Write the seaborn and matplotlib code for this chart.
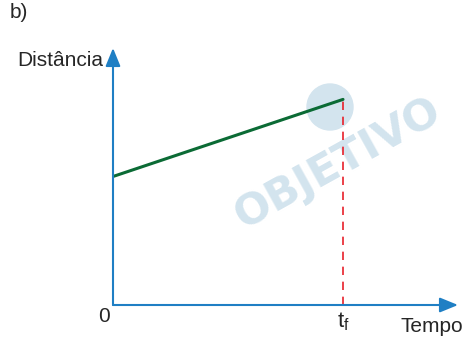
import matplotlib
matplotlib.use("Agg")
import matplotlib.pyplot as plt
import seaborn as sns
import pandas as pd
from matplotlib.patches import Ellipse

# data
tempo = [0.0, 1.0]          # 0 .. t_f
distancia = [1.0, 1.6]      # start and end distance
t_labels = ["0", "$\\mathregular{t_f}$"]

sns.set_style("white")
plt.rcParams['font.family'] = ['Liberation Sans', 'DejaVu Sans']

BLUE = "#1f7fc4"
GREEN = "#0b6b35"
RED = "#e8202a"
WM = "#d3e4ee"

fig = plt.figure(figsize=(4.66, 3.40), dpi=100)
W, H = 466, 340
ax = fig.add_axes([113 / W, 35 / H, 345 / W, 257 / H])
ax.set_xlim(0, 1.5)
ax.set_ylim(0, 2.0)
ax.axis("off")
ax.set_zorder(2)

# watermark
fig.text(338 / W, 1 - 163 / H, "OBJETIVO", rotation=29, fontsize=31, fontweight="heavy",
         family="DejaVu Sans", color=WM, ha="center", va="center", zorder=0)
fig.patches.append(Ellipse((330 / W, 1 - 107 / H), 46 / W, 46 / H, transform=fig.transFigure,
                           color=WM, zorder=0))

df = pd.DataFrame({"tempo": tempo, "distancia": distancia})
sns.lineplot(data=df, x="tempo", y="distancia", color=GREEN, lw=2.2, ax=ax, zorder=3)
ax.plot([tempo[-1], tempo[-1]], [0, distancia[-1]], color=RED, lw=1.2,
        dashes=(5, 4), zorder=2)

# axes with arrows
ax.annotate("", xy=(1.0, 0), xytext=(0, 0), xycoords="axes fraction",
            arrowprops=dict(arrowstyle="-|>,head_length=1.1,head_width=0.45", color=BLUE, lw=1.5,
                            shrinkA=0, shrinkB=0), clip_on=False)
ax.annotate("", xy=(0, 1.0), xytext=(0, 0), xycoords="axes fraction",
            arrowprops=dict(arrowstyle="-|>,head_length=1.1,head_width=0.45", color=BLUE, lw=1.5,
                            shrinkA=0, shrinkB=0), clip_on=False)

# labels
fig.text(10 / W, 1 - 13 / H, "b)", fontsize=15, ha="left", va="center")
fig.text(103 / W, 1 - 60 / H, "Distância", fontsize=15, ha="right", va="center")
fig.text(463 / W, 1 - 326 / H, "Tempo", fontsize=15, ha="right", va="center")
ax.text(tempo[0] - 0.04, -0.09, t_labels[0], fontsize=15, ha="center", va="center")
ax.text(tempo[1], -0.13, t_labels[1], fontsize=16, ha="center", va="center")

fig.savefig("out.png", dpi=100)
